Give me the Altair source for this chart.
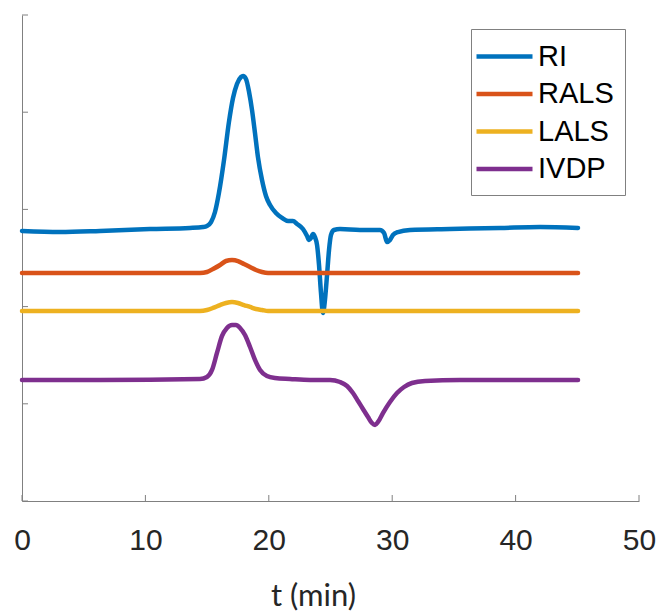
import altair as alt
import pandas as pd

# ---- data (t in min, signal in axis units 0..5) ----
series = ["RI", "RALS", "LALS", "IVDP"]
colors = ["#0072BD", "#D95319", "#EDB120", "#7E2F8E"]

ri_t = [0.00, 3.08, 6.32, 10.37, 13.61, 14.67, 14.99, 15.32, 15.64, 15.96, 16.37, 16.77,
        17.10, 17.42, 17.75, 17.91, 18.15, 18.40, 18.64, 18.88, 19.12, 19.45, 19.77, 20.10,
        20.58, 21.07, 21.56, 21.96, 22.29, 22.77, 23.10, 23.26, 23.42, 23.58, 23.74, 23.91,
        24.07, 24.23, 24.39, 24.55, 24.72, 24.88, 25.04, 25.28, 25.77, 27.39, 29.01, 29.34,
        29.58, 29.82, 30.06, 30.47, 31.44, 34.68, 38.74, 41.98, 45.06]
ri_v = [2.778, 2.767, 2.778, 2.798, 2.809, 2.819, 2.829, 2.870, 2.973, 3.169, 3.508, 3.899,
        4.146, 4.290, 4.362, 4.372, 4.342, 4.208, 4.023, 3.786, 3.539, 3.302, 3.138, 3.045,
        2.963, 2.912, 2.881, 2.881, 2.850, 2.798, 2.726, 2.685, 2.706, 2.747, 2.716, 2.634,
        2.428, 2.140, 1.934, 2.068, 2.325, 2.582, 2.737, 2.788, 2.798, 2.788, 2.788, 2.757,
        2.665, 2.685, 2.737, 2.767, 2.788, 2.798, 2.809, 2.819, 2.809]

rals_t = [0.00, 10.00, 14.42, 14.99, 15.48, 16.05, 16.53, 17.02, 17.50, 17.99, 18.48, 18.96,
          19.45, 19.94, 30.00, 45.06]
rals_v = [2.346, 2.346, 2.346, 2.356, 2.387, 2.428, 2.469, 2.479, 2.469, 2.438, 2.407, 2.377,
          2.356, 2.346, 2.346, 2.346]

lals_t = [0.00, 10.00, 14.42, 14.99, 15.48, 16.05, 16.53, 17.02, 17.50, 17.99, 18.48, 18.96,
          19.45, 19.94, 30.00, 45.06]
lals_v = [1.955, 1.955, 1.955, 1.965, 1.986, 2.016, 2.037, 2.047, 2.037, 2.016, 1.996, 1.975,
          1.965, 1.955, 1.955, 1.955]

ivdp_t = [0.00, 6.32, 14.42, 14.99, 15.40, 15.80, 16.21, 16.61, 17.02, 17.34, 17.67, 18.07,
          18.48, 18.88, 19.29, 19.85, 20.50, 21.72, 23.34, 24.96, 25.77, 26.34, 26.82, 27.23,
          27.63, 28.04, 28.36, 28.61, 28.85, 29.25, 29.82, 30.39, 30.96, 31.60, 32.66, 35.49,
          45.06]
ivdp_v = [1.245, 1.245, 1.255, 1.276, 1.348, 1.523, 1.698, 1.780, 1.811, 1.811, 1.780, 1.708,
          1.584, 1.451, 1.348, 1.286, 1.265, 1.255, 1.245, 1.245, 1.224, 1.183, 1.111, 1.029,
          0.947, 0.864, 0.802, 0.782, 0.813, 0.905, 1.019, 1.111, 1.173, 1.214, 1.235, 1.245,
          1.245]

x_ticks = [0, 10, 20, 30, 40, 50]
y_ticks = [0, 1, 2, 3, 4, 5]

rows = []
for name, ts, vs in [("RI", ri_t, ri_v), ("RALS", rals_t, rals_v),
                     ("LALS", lals_t, lals_v), ("IVDP", ivdp_t, ivdp_v)]:
    for i, (t, v) in enumerate(zip(ts, vs)):
        rows.append({"series": name, "t": t, "v": v, "idx": i})
df = pd.DataFrame(rows)

W, H = 617, 486
AXC = "#808080"
xs = alt.Scale(domain=[0, 50], nice=False, zero=False)
ys = alt.Scale(domain=[0, 5], nice=False, zero=False)

x_axis = alt.Axis(
    values=x_ticks, title="t (min)", grid=False, ticks=False, tickSize=0,
    domainColor=AXC, domainWidth=1, labelFont="Liberation Sans", labelFontSize=30,
    labelColor="#262626", labelPadding=24, labelFlush=False,
    titleFont="Lato", titleFontSize=31, titleFontWeight="normal", titleColor="#262626",
    titleX=291, titleY=104, titleBaseline="alphabetic", titleAlign="center")
y_axis = alt.Axis(
    values=y_ticks, labels=False, ticks=False, tickSize=0, title=None, grid=False,
    domainColor=AXC, domainWidth=1)

lines = alt.Chart(df).mark_line(
    strokeWidth=4.5, interpolate="monotone", strokeCap="round", strokeJoin="round"
).encode(
    x=alt.X("t:Q", scale=xs, axis=x_axis),
    y=alt.Y("v:Q", scale=ys, axis=y_axis),
    color=alt.Color("series:N", sort=series,
                    scale=alt.Scale(domain=series, range=colors),
                    legend=alt.Legend(
                        title=None, orient="none", legendX=449, legendY=14,
                        direction="vertical", symbolType="M-2,0H2", symbolSize=784,
                        symbolStrokeWidth=4.5, symbolOffset=6,
                        labelFont="Liberation Sans", labelFontSize=29,
                        labelColor="black", labelOffset=17, labelLimit=0, padding=11,
                        rowPadding=5.5, strokeColor=AXC, fillColor="white")),
    order=alt.Order("idx:Q"),
)

xt = alt.Chart(pd.DataFrame({"t": x_ticks})).mark_rule(color=AXC, strokeWidth=1).encode(
    x=alt.X("t:Q", scale=xs, axis=x_axis), y=alt.value(H), y2=alt.value(H - 6))
yt = alt.Chart(pd.DataFrame({"v": y_ticks})).mark_rule(color=AXC, strokeWidth=1).encode(
    y=alt.Y("v:Q", scale=ys, axis=y_axis), x=alt.value(0), x2=alt.value(6))

chart = alt.layer(lines, xt, yt).properties(
    width=W, height=H,
    background="white",
    autosize=alt.AutoSizeParams(type="none"),
    padding={"left": 22, "top": 15, "right": 23, "bottom": 111},
).configure_view(stroke="transparent", strokeWidth=0)

chart.save("out.html", embed_options={"renderer": "svg", "actions": False})
